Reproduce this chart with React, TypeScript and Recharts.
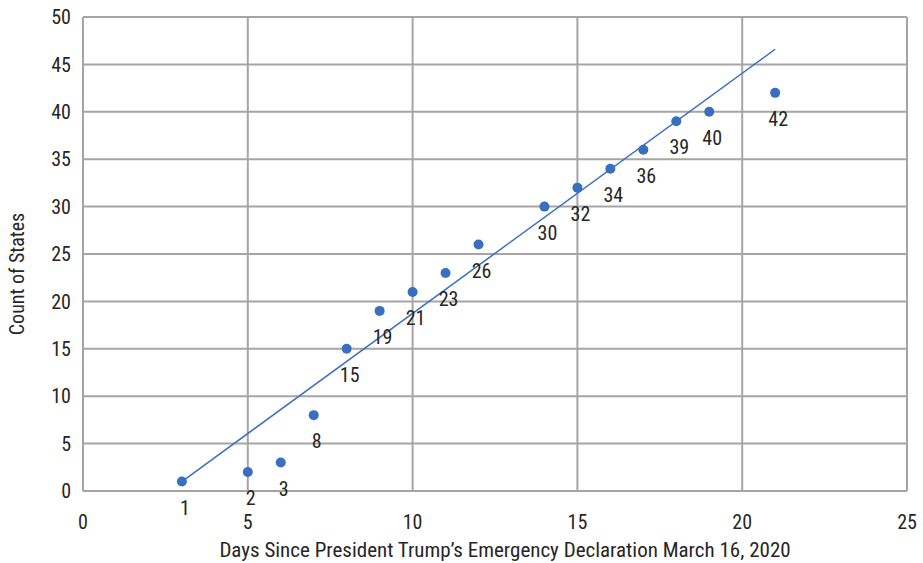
import { ScatterChart, Scatter, XAxis, YAxis, CartesianGrid, LabelList } from 'recharts'

// days since declaration
const days = [3, 5, 6, 7, 8, 9, 10, 11, 12, 14, 15, 16, 17, 18, 19, 21]
// count of states
const states = [1, 2, 3, 8, 15, 19, 21, 23, 26, 30, 32, 34, 36, 39, 40, 42]
// trend line endpoints
const trendX = [3, 21]
const trendY = [1, 46.6]

const xTicks = [0, 5, 10, 15, 20, 25]
const yTicks = [0, 5, 10, 15, 20, 25, 30, 35, 40, 45, 50]

const points = days.map((d, i) => ({ x: d, y: states[i] }))
const trend = trendX.map((d, i) => ({ x: d, y: trendY[i] }))

const FONT = "'Roboto Condensed', Roboto, sans-serif"
const BLUE = '#3a6fc0'
const GRID = '#a5a5a5'
const TEXT = '#262626'

const PointLabel = (props: any) => {
  const { x, y, width, height, value } = props
  const cx = x + width / 2
  const cy = y + height / 2
  return (
    <text x={cx + 3} y={cy + 26} textAnchor="middle" dominantBaseline="central" fill={TEXT} fontSize={20} fontFamily={FONT}>
      {value}
    </text>
  )
}

const XTitle = () => (
  <text x={505} y={550} textAnchor="middle" dominantBaseline="central" fill={TEXT} fontSize={21} fontFamily={FONT}>
    Days Since President Trump{'\u2019'}s Emergency Declaration March 16, 2020
  </text>
)

const YTitle = () => (
  <text
    x={17}
    y={274}
    transform="rotate(-90 17 274)"
    textAnchor="middle"
    dominantBaseline="central"
    fill={TEXT}
    fontSize={20}
    fontFamily={FONT}
  >
    Count of States
  </text>
)

export default function App() {
  return (
    <div style={{ position: 'absolute', left: 0, top: 0, width: 923, height: 563, background: '#fff' }}>
      <ScatterChart width={923} height={563} margin={{ top: 17, right: 16, left: 0, bottom: 0 }}>
        <CartesianGrid stroke={GRID} strokeWidth={2} />
        <XAxis
          type="number"
          dataKey="x"
          domain={[0, 25]}
          ticks={xTicks}
          height={72}
          axisLine={{ stroke: GRID, strokeWidth: 2 }}
          tickLine={false}
          tick={{ fill: TEXT, fontSize: 20, fontFamily: FONT, dy: 16 }}
          label={<XTitle />}
        />
        <YAxis
          type="number"
          dataKey="y"
          domain={[0, 50]}
          ticks={yTicks}
          width={83}
          axisLine={{ stroke: GRID, strokeWidth: 2 }}
          tickLine={false}
          tick={{ fill: TEXT, fontSize: 20, fontFamily: FONT, dx: -4 }}
          label={<YTitle />}
        />
        <Scatter
          data={trend}
          line={{ stroke: BLUE, strokeWidth: 1.5 }}
          shape={() => null}
          isAnimationActive={false}
        />
        <Scatter data={points} fill={BLUE} isAnimationActive={false} shape={(p: any) => <circle cx={p.cx} cy={p.cy} r={5} fill={BLUE} />}>
          <LabelList dataKey="y" content={PointLabel} />
        </Scatter>
      </ScatterChart>
    </div>
  )
}
